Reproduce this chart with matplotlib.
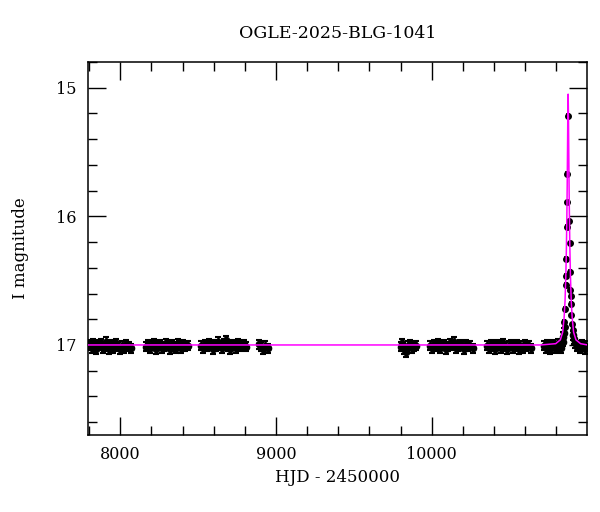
#!/usr/bin/env python3
import numpy as np
import matplotlib
matplotlib.use("Agg")
import matplotlib.pyplot as plt
from matplotlib.ticker import MultipleLocator

title = "OGLE-2025-BLG-1041"

# observing seasons (HJD - 2450000, I mag)
s1_t = [7797, 7808, 7818, 7827, 7838, 7846, 7857, 7866, 7878, 7887, 7896, 7908, 7918,
        7928, 7940, 7951, 7962, 7974, 7986, 7998, 8012, 8026, 8040, 8055, 8070]
s1_m = [17.00, 16.99, 17.02, 16.98, 17.01, 17.03, 16.99, 17.00, 16.98, 17.02, 17.01, 16.97,
        17.00, 17.03, 16.99, 17.02, 17.00, 16.98, 17.01, 17.03, 17.00, 17.02, 16.99, 17.01, 17.02]
s2_t = [8168, 8180, 8193, 8205, 8218, 8230, 8242, 8255, 8268, 8280, 8292, 8305, 8318,
        8330, 8343, 8356, 8368, 8380, 8392, 8405, 8418, 8432]
s2_m = [17.01, 16.99, 17.02, 17.00, 16.98, 17.03, 17.00, 16.99, 17.02, 17.01, 16.98, 17.00,
        17.03, 16.99, 17.01, 17.02, 16.98, 17.00, 17.02, 16.99, 17.01, 17.00]
s3_t = [8518, 8530, 8543, 8556, 8568, 8580, 8593, 8605, 8618, 8630, 8642, 8655, 8668,
        8680, 8692, 8705, 8718, 8730, 8742, 8755, 8768, 8780, 8795, 8808]
s3_m = [17.00, 17.02, 16.99, 17.01, 16.98, 17.00, 17.03, 16.99, 17.01, 16.97, 17.00, 17.02,
        16.98, 16.96, 17.01, 17.03, 16.99, 17.00, 17.02, 16.98, 17.01, 17.00, 16.99, 17.01]
s4_t = [8892, 8905, 8918, 8932, 8946]
s4_m = [16.99, 17.01, 17.03, 17.00, 17.02]
s5_t = [9800, 9812, 9825, 9838, 9850, 9862, 9875, 9888, 9900]
s5_m = [17.01, 16.98, 17.03, 17.05, 17.00, 16.99, 17.02, 17.01, 17.00]
s6_t = [9992, 10004, 10017, 10030, 10042, 10055, 10068, 10080, 10092, 10105, 10118,
        10130, 10143, 10156, 10168, 10180, 10193, 10205, 10218, 10232, 10246, 10262]
s6_m = [17.00, 17.02, 16.99, 17.01, 16.98, 17.02, 17.00, 16.99, 17.03, 17.01, 16.98,
        17.00, 16.97, 17.02, 17.01, 16.99, 17.00, 17.03, 16.99, 17.01, 17.00, 17.02]
s7_t = [10358, 10370, 10383, 10396, 10408, 10420, 10433, 10446, 10458, 10470, 10483,
        10496, 10508, 10520, 10533, 10546, 10558, 10570, 10583, 10596, 10608, 10622, 10636]
s7_m = [17.00, 17.02, 16.99, 17.01, 17.03, 16.99, 17.00, 17.02, 16.98, 17.01, 17.03,
        17.00, 16.99, 17.02, 17.01, 16.99, 17.03, 17.00, 17.02, 16.99, 17.01, 17.00, 17.02]
s8_t = [10722, 10732, 10742, 10752, 10762, 10772, 10782, 10792, 10802, 10812, 10822,
        10832, 10840, 10846, 10849, 10852, 10855, 10858, 10861, 10862, 10864, 10869, 10869,
        10870, 10878, 10884, 10887, 10889, 10891, 10892, 10893, 10896, 10900, 10905, 10910,
        10915, 10922, 10932, 10942, 10952, 10962, 10972, 10982, 10992]
s8_m = [17.00, 17.02, 16.99, 17.01, 17.03, 17.00, 16.99, 17.02, 17.01, 16.98, 17.00,
        17.02, 16.97, 16.93, 16.90, 16.82, 16.86, 16.72, 16.53, 16.46, 16.33, 15.89, 16.08,
        15.67, 15.22, 16.04, 16.21, 16.43, 16.57, 16.62, 16.68, 16.77, 16.84, 16.88, 16.92,
        16.95, 16.98, 17.01, 17.00, 17.02, 16.99, 17.01, 17.03, 17.00]

# fitted model curve, sampled by eye
model_t = [7790, 10700, 10796, 10826, 10841, 10850, 10856, 10861, 10865, 10868, 10870,
           10872, 10874, 10876, 10878, 10880, 10882, 10884, 10887, 10891, 10896, 10902,
           10911, 10926, 10956, 11000]
model_m = [17.00, 17.00, 16.99, 16.96, 16.90, 16.79, 16.66, 16.47, 16.24, 15.98, 15.76,
           15.49, 15.20, 15.05, 15.20, 15.49, 15.76, 15.98, 16.24, 16.47, 16.66, 16.79,
           16.90, 16.96, 16.99, 17.00]

t = np.concatenate([s1_t, s2_t, s3_t, s4_t, s5_t, s6_t, s7_t, s8_t])
m = np.concatenate([s1_m, s2_m, s3_m, s4_m, s5_m, s6_m, s7_m, s8_m])
bright = m < 16.9

plt.rcParams["font.family"] = ["DejaVu Serif"]

fig = plt.figure(figsize=(6, 5.12), dpi=100)
ax = fig.add_axes([0.1467, 0.1504, 0.8316, 0.7285])

# baseline points (larger errors) and magnified points (small errors)
ax.errorbar(t[~bright], m[~bright] + 0.005, yerr=0.035, fmt="o", color="black", ms=4.5,
            elinewidth=1.8, capsize=2, capthick=1.5, zorder=2)
ax.errorbar(t[bright], m[bright], yerr=0.012, fmt="o", color="black", ms=4,
            elinewidth=1.2, capsize=1.5, capthick=1.2, zorder=2)
ax.plot(model_t, model_m, color="#ff00ff", lw=1.1, zorder=3)

ax.set_xlim(7793, 10997)
ax.set_ylim(17.7, 14.8)
ax.xaxis.set_major_locator(MultipleLocator(1000))
ax.xaxis.set_minor_locator(MultipleLocator(200))
ax.yaxis.set_major_locator(MultipleLocator(1))
ax.yaxis.set_minor_locator(MultipleLocator(0.2))
ax.tick_params(which="both", direction="in", top=True, right=True, width=1, labelsize=11.5)
ax.tick_params(which="major", length=13, pad=8)
ax.tick_params(which="minor", length=6.5)
for s in ax.spines.values():
    s.set_linewidth(1.1)

ax.set_title(title, fontsize=12.5, pad=17)
ax.set_xlabel("HJD - 2450000", fontsize=12)
ax.set_ylabel("I magnitude", fontsize=12, labelpad=20)

fig.savefig("out.png", dpi=100)
